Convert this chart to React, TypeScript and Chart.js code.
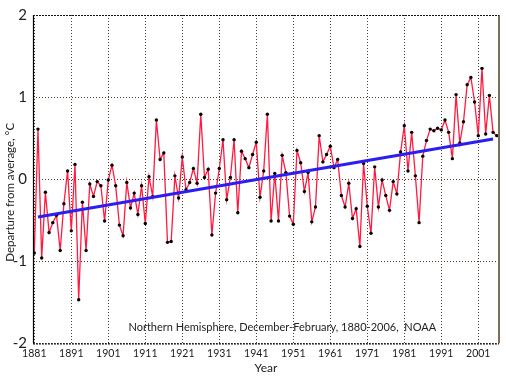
import React, { useEffect, useRef } from "react";
import { Chart, registerables } from "chart.js";

Chart.register(...registerables);

const firstYear = 1881;

// Northern Hemisphere Dec-Feb temperature anomalies, 1881-2006 (°C)
const anomalies: number[] = [
  -0.9, 0.61, -0.96, -0.16, -0.65, -0.53, -0.44, -0.87, -0.3, 0.1,
  -0.63, 0.18, -1.47, -0.28, -0.87, -0.06, -0.21, -0.03, -0.08, -0.51,
  -0.01, 0.17, -0.08, -0.56, -0.69, -0.04, -0.35, -0.17, -0.43, -0.08,
  -0.54, 0.03, -0.21, 0.72, 0.24, 0.32, -0.77, -0.76, 0.04, -0.23,
  0.27, -0.13, -0.04, 0.13, -0.05, 0.79, 0.02, 0.12, -0.68, -0.17,
  0.13, 0.48, -0.25, 0.02, 0.48, -0.41, 0.34, 0.25, 0.14, 0.3,
  0.45, -0.22, 0.1, 0.79, -0.51, 0.07, -0.51, 0.29, 0.08, -0.45,
  -0.55, 0.35, 0.2, -0.15, 0.08, -0.52, -0.34, 0.53, 0.21, 0.3,
  0.4, 0.14, 0.24, -0.2, -0.34, -0.05, -0.48, -0.36, -0.82, 0.19,
  -0.33, -0.66, 0.15, -0.34, -0.01, -0.2, -0.38, -0.03, -0.18, 0.33,
  0.65, 0.1, 0.57, 0.04, -0.53, 0.28, 0.47, 0.61, 0.59, 0.62,
  0.6, 0.72, 0.57, 0.25, 1.03, 0.44, 0.7, 1.15, 1.24, 0.94,
  0.53, 1.35, 0.55, 1.02, 0.57, 0.53,
];

// Linear trend endpoints
const trendYears: number[] = [1882, 2005];
const trendValues: number[] = [-0.46, 0.49];

const xTickLabels: number[] = [1881, 1891, 1901, 1911, 1921, 1931, 1941, 1951, 1961, 1971, 1981, 1991, 2001];
const yTickLabels: number[] = [2, 1, 0, -1, -2];

const yTitle = "Departure from average, °C";
const xTitle = "Year";
const caption = "Northern Hemisphere, December-February, 1880-2006,  NOAA";

const FONT = "Lato, 'Open Sans', 'DejaVu Sans', sans-serif";

const decorPlugin = {
  id: "decor",
  afterDraw(chart: any) {
    const { ctx, chartArea } = chart;
    const { left, right, top, bottom } = chartArea;
    ctx.save();
    // left axis
    ctx.strokeStyle = "#000";
    ctx.lineWidth = 1.2;
    ctx.beginPath();
    ctx.moveTo(left + 0.5, top);
    ctx.lineTo(left + 0.5, bottom);
    ctx.stroke();
    // right border
    ctx.strokeStyle = "#7d6e5c";
    ctx.lineWidth = 2;
    ctx.beginPath();
    ctx.moveTo(right, top);
    ctx.lineTo(right, bottom);
    ctx.stroke();
    // top & bottom dotted borders
    ctx.strokeStyle = "#111";
    ctx.lineWidth = 1.2;
    ctx.setLineDash([2, 1]);
    ctx.beginPath();
    ctx.moveTo(left, top + 0.5);
    ctx.lineTo(right, top + 0.5);
    ctx.moveTo(left, bottom + 0.5);
    ctx.lineTo(right, bottom + 0.5);
    ctx.stroke();
    ctx.setLineDash([]);
    // caption
    ctx.fillStyle = "#222";
    ctx.font = `11px ${FONT}`;
    ctx.textAlign = "center";
    ctx.textBaseline = "middle";
    ctx.fillText(caption, left + (right - left) * 0.535, bottom - 16);
    // y title
    ctx.translate(10.5, top + (bottom - top) * 0.54);
    ctx.rotate(-Math.PI / 2);
    ctx.font = `11.5px ${FONT}`;
    ctx.fillText(yTitle, 0, 0);
    ctx.restore();
  },
};

export default function App() {
  const ref = useRef<HTMLCanvasElement | null>(null);

  useEffect(() => {
    document.body.style.margin = "0";
    const canvas = ref.current;
    if (!canvas) return;
    const points = anomalies.map((v, i) => ({ x: firstYear + i, y: v }));
    const trend = trendYears.map((yr, i) => ({ x: yr, y: trendValues[i] }));

    const chart = new Chart(canvas, {
      type: "line",
      data: {
        datasets: [
          {
            label: "Trend",
            data: trend,
            borderColor: "#2b1ef0",
            borderWidth: 3,
            pointRadius: 0,
            fill: false,
          },
          {
            label: "Anomaly",
            data: points,
            borderColor: "#ff1a40",
            borderWidth: 1.3,
            pointRadius: 1.7,
            pointBackgroundColor: "#000",
            pointBorderWidth: 0,
            fill: false,
          },
        ],
      },
      options: {
        animation: false,
        responsive: true,
        maintainAspectRatio: false,
        layout: { padding: { top: 11.7, right: 7, left: 0, bottom: 0 } },
        plugins: { legend: { display: false }, tooltip: { enabled: false } },
        scales: {
          x: {
            type: "linear",
            min: 1880.65,
            max: 2006.6,
            afterBuildTicks: (s: any) => {
              s.ticks = xTickLabels.map((v) => ({ value: v }));
            },
            afterFit: (s: any) => {
              s.height = 36.7;
            },
            ticks: {
              autoSkip: false,
              maxRotation: 0,
              padding: 4,
              color: "#1a1a1a",
              font: { family: FONT, size: 10.5 },
              callback: (v: any) => String(v),
            },
            grid: { color: "#4e3c28", lineWidth: 1, drawTicks: false },
            border: { display: false, dash: [1, 2] },
            title: {
              display: true,
              text: xTitle,
              color: "#222",
              font: { family: FONT, size: 12 },
              padding: { top: 0, bottom: 5 },
            },
          },
          y: {
            min: -2,
            max: 2,
            afterBuildTicks: (s: any) => {
              s.ticks = yTickLabels.map((v) => ({ value: v }));
            },
            afterFit: (s: any) => {
              s.width = 33;
            },
            ticks: {
              padding: 6,
              color: "#222",
              font: { family: FONT, size: 15 },
              callback: (v: any) => String(v),
            },
            grid: { color: "#4e3c28", lineWidth: 1, drawTicks: false },
            border: { display: false, dash: [1, 2] },
          },
        },
      },
      plugins: [decorPlugin],
    } as any);
    return () => chart.destroy();
  }, []);

  return (
    <div style={{ position: "relative", width: 506, height: 380 }}>
      <canvas ref={ref} />
    </div>
  );
}
